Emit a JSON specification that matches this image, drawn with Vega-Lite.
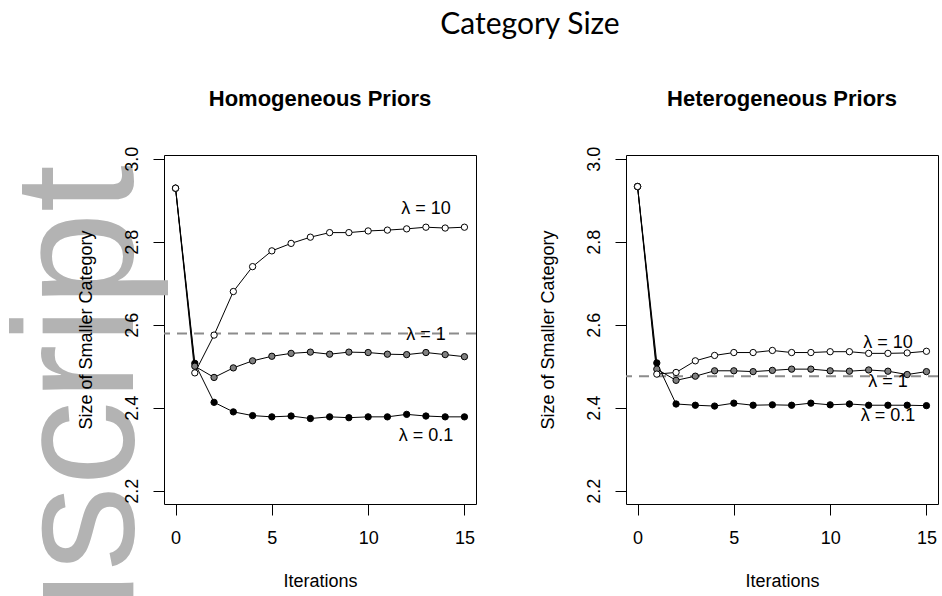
{
  "$schema": "https://vega.github.io/schema/vega-lite/v6.json",
  "autosize": {"type": "none"},
  "padding": {"left": 164, "top": 155, "right": 778, "bottom": 441},
  "background": "white",
  "title": {"text": "Category Size", "font": "Lato", "fontSize": 30, "fontWeight": "normal", "color": "black", "anchor": "middle", "baseline": "alphabetic", "offset": 23, "dx": 62},
  "spacing": 60,
  "config": {
    "view": {"stroke": "black", "strokeWidth": 1},
    "axis": {"domain": false, "grid": false, "tickColor": "black", "tickSize": 11, "tickWidth": 1, "labelFont": "Liberation Sans", "labelFontSize": 18, "labelColor": "black", "labelFlush": false, "labelOverlap": false, "titleFont": "Liberation Sans", "titleFontSize": 18, "titleFontWeight": "normal", "titleColor": "black"},
    "axisX": {"labelBaseline": "top", "labelPadding": 14, "titleBaseline": "top", "titlePadding": 25},
    "axisY": {"labelAngle": 270, "labelAlign": "center", "labelBaseline": "alphabetic", "labelPadding": 15.5, "titleAngle": 270, "titleBaseline": "alphabetic", "titlePadding": 32}
  },
  "datasets": {
    "homog": [
      {"i":0,"v":2.929,"lam":"0.1"},{"i":1,"v":2.507,"lam":"0.1"},{"i":2,"v":2.413,"lam":"0.1"},{"i":3,"v":2.390,"lam":"0.1"},{"i":4,"v":2.381,"lam":"0.1"},{"i":5,"v":2.378,"lam":"0.1"},{"i":6,"v":2.380,"lam":"0.1"},{"i":7,"v":2.374,"lam":"0.1"},{"i":8,"v":2.378,"lam":"0.1"},{"i":9,"v":2.376,"lam":"0.1"},{"i":10,"v":2.378,"lam":"0.1"},{"i":11,"v":2.378,"lam":"0.1"},{"i":12,"v":2.384,"lam":"0.1"},{"i":13,"v":2.380,"lam":"0.1"},{"i":14,"v":2.378,"lam":"0.1"},{"i":15,"v":2.378,"lam":"0.1"},
      {"i":0,"v":2.929,"lam":"1"},{"i":1,"v":2.500,"lam":"1"},{"i":2,"v":2.473,"lam":"1"},{"i":3,"v":2.496,"lam":"1"},{"i":4,"v":2.513,"lam":"1"},{"i":5,"v":2.524,"lam":"1"},{"i":6,"v":2.531,"lam":"1"},{"i":7,"v":2.534,"lam":"1"},{"i":8,"v":2.529,"lam":"1"},{"i":9,"v":2.534,"lam":"1"},{"i":10,"v":2.533,"lam":"1"},{"i":11,"v":2.529,"lam":"1"},{"i":12,"v":2.528,"lam":"1"},{"i":13,"v":2.533,"lam":"1"},{"i":14,"v":2.528,"lam":"1"},{"i":15,"v":2.523,"lam":"1"},
      {"i":0,"v":2.929,"lam":"10"},{"i":1,"v":2.484,"lam":"10"},{"i":2,"v":2.575,"lam":"10"},{"i":3,"v":2.680,"lam":"10"},{"i":4,"v":2.740,"lam":"10"},{"i":5,"v":2.778,"lam":"10"},{"i":6,"v":2.796,"lam":"10"},{"i":7,"v":2.811,"lam":"10"},{"i":8,"v":2.822,"lam":"10"},{"i":9,"v":2.822,"lam":"10"},{"i":10,"v":2.826,"lam":"10"},{"i":11,"v":2.828,"lam":"10"},{"i":12,"v":2.831,"lam":"10"},{"i":13,"v":2.835,"lam":"10"},{"i":14,"v":2.833,"lam":"10"},{"i":15,"v":2.835,"lam":"10"}
    ],
    "heterog": [
      {"i":0,"v":2.933,"lam":"0.1"},{"i":1,"v":2.508,"lam":"0.1"},{"i":2,"v":2.409,"lam":"0.1"},{"i":3,"v":2.406,"lam":"0.1"},{"i":4,"v":2.404,"lam":"0.1"},{"i":5,"v":2.411,"lam":"0.1"},{"i":6,"v":2.406,"lam":"0.1"},{"i":7,"v":2.407,"lam":"0.1"},{"i":8,"v":2.406,"lam":"0.1"},{"i":9,"v":2.411,"lam":"0.1"},{"i":10,"v":2.407,"lam":"0.1"},{"i":11,"v":2.409,"lam":"0.1"},{"i":12,"v":2.406,"lam":"0.1"},{"i":13,"v":2.406,"lam":"0.1"},{"i":14,"v":2.406,"lam":"0.1"},{"i":15,"v":2.405,"lam":"0.1"},
      {"i":0,"v":2.933,"lam":"1"},{"i":1,"v":2.493,"lam":"1"},{"i":2,"v":2.466,"lam":"1"},{"i":3,"v":2.476,"lam":"1"},{"i":4,"v":2.489,"lam":"1"},{"i":5,"v":2.489,"lam":"1"},{"i":6,"v":2.487,"lam":"1"},{"i":7,"v":2.490,"lam":"1"},{"i":8,"v":2.493,"lam":"1"},{"i":9,"v":2.493,"lam":"1"},{"i":10,"v":2.489,"lam":"1"},{"i":11,"v":2.488,"lam":"1"},{"i":12,"v":2.491,"lam":"1"},{"i":13,"v":2.488,"lam":"1"},{"i":14,"v":2.480,"lam":"1"},{"i":15,"v":2.487,"lam":"1"},
      {"i":0,"v":2.933,"lam":"10"},{"i":1,"v":2.481,"lam":"10"},{"i":2,"v":2.485,"lam":"10"},{"i":3,"v":2.513,"lam":"10"},{"i":4,"v":2.526,"lam":"10"},{"i":5,"v":2.533,"lam":"10"},{"i":6,"v":2.533,"lam":"10"},{"i":7,"v":2.538,"lam":"10"},{"i":8,"v":2.533,"lam":"10"},{"i":9,"v":2.533,"lam":"10"},{"i":10,"v":2.535,"lam":"10"},{"i":11,"v":2.535,"lam":"10"},{"i":12,"v":2.531,"lam":"10"},{"i":13,"v":2.531,"lam":"10"},{"i":14,"v":2.532,"lam":"10"},{"i":15,"v":2.536,"lam":"10"}
    ],
    "homogLabels": [
      {"x":13,"y":2.878,"label":"λ = 10"},{"x":13,"y":2.575,"label":"λ = 1"},{"x":13,"y":2.332,"label":"λ = 0.1"}
    ],
    "heterogLabels": [
      {"x":13,"y":2.555,"label":"λ = 10"},{"x":13,"y":2.463,"label":"λ = 1"},{"x":13,"y":2.380,"label":"λ = 0.1"}
    ],
    "homogRef": [{"ref": 2.579}],
    "heterogRef": [{"ref": 2.476}],
    "watermark": [{"x": -2.21, "y": 2.985, "label": "Manuscript"}]
  },
  "hconcat": [
    {
      "width": 312, "height": 349,
      "title": {"text": "Homogeneous Priors", "font": "Liberation Sans", "fontSize": 22, "fontWeight": "bold", "color": "black", "anchor": "middle", "frame": "group", "baseline": "alphabetic", "offset": 18.5},
      "layer": [
        {
          "data": {"name": "watermark"},
          "mark": {"type": "text", "font": "Liberation Sans", "fontSize": 170, "color": "#b3b3b3", "angle": 270, "align": "right", "baseline": "alphabetic"},
          "encoding": {
            "x": {"field": "x", "type": "quantitative", "scale": {"domain": [-0.6, 15.6], "nice": false, "zero": false}, "title": "Iterations", "axis": {"values": [0, 5, 10, 15], "zindex": 1}},
            "y": {"field": "y", "type": "quantitative", "scale": {"domain": [2.168, 3.009], "nice": false, "zero": false}, "title": "Size of Smaller Category", "axis": {"values": [2.2, 2.4, 2.6, 2.8, 3.0], "format": ".1f", "zindex": 1}},
            "text": {"field": "label"}
          }
        },
        {
          "data": {"name": "homogRef"},
          "mark": {"type": "rule", "color": "#8c8c8c", "strokeWidth": 2, "strokeDash": [10, 7]},
          "encoding": {"y": {"field": "ref", "type": "quantitative"}}
        },
        {
          "data": {"name": "homog"},
          "mark": {"type": "line", "color": "black", "strokeWidth": 1},
          "encoding": {
            "x": {"field": "i", "type": "quantitative"},
            "y": {"field": "v", "type": "quantitative"},
            "detail": {"field": "lam"}
          }
        },
        {
          "data": {"name": "homog"},
          "mark": {"type": "point", "shape": "circle", "filled": true, "size": 40, "stroke": "black", "strokeWidth": 1, "opacity": 1},
          "encoding": {
            "x": {"field": "i", "type": "quantitative"},
            "y": {"field": "v", "type": "quantitative"},
            "fill": {"field": "lam", "type": "nominal", "scale": {"domain": ["0.1", "1", "10"], "range": ["black", "#808080", "white"]}, "legend": null}
          }
        },
        {
          "data": {"name": "homogLabels"},
          "mark": {"type": "text", "font": "Liberation Sans", "fontSize": 18, "color": "black", "align": "center", "baseline": "middle"},
          "encoding": {
            "x": {"field": "x", "type": "quantitative"},
            "y": {"field": "y", "type": "quantitative"},
            "text": {"field": "label"}
          }
        }
      ]
    },
    {
      "width": 312, "height": 349,
      "title": {"text": "Heterogeneous Priors", "font": "Liberation Sans", "fontSize": 22, "fontWeight": "bold", "color": "black", "anchor": "middle", "frame": "group", "baseline": "alphabetic", "offset": 18.5},
      "layer": [
        {
          "data": {"name": "heterogRef"},
          "mark": {"type": "rule", "color": "#8c8c8c", "strokeWidth": 2, "strokeDash": [10, 7]},
          "encoding": {"y": {"field": "ref", "type": "quantitative", "scale": {"domain": [2.168, 3.009], "nice": false, "zero": false}}}
        },
        {
          "data": {"name": "heterog"},
          "mark": {"type": "line", "color": "black", "strokeWidth": 1},
          "encoding": {
            "x": {"field": "i", "type": "quantitative", "title": "Iterations", "scale": {"domain": [-0.6, 15.6], "nice": false, "zero": false}, "axis": {"values": [0, 5, 10, 15], "zindex": 1}},
            "y": {"field": "v", "type": "quantitative", "title": "Size of Smaller Category", "axis": {"values": [2.2, 2.4, 2.6, 2.8, 3.0], "format": ".1f", "zindex": 1}},
            "detail": {"field": "lam"}
          }
        },
        {
          "data": {"name": "heterog"},
          "mark": {"type": "point", "shape": "circle", "filled": true, "size": 40, "stroke": "black", "strokeWidth": 1, "opacity": 1},
          "encoding": {
            "x": {"field": "i", "type": "quantitative"},
            "y": {"field": "v", "type": "quantitative"},
            "fill": {"field": "lam", "type": "nominal", "scale": {"domain": ["0.1", "1", "10"], "range": ["black", "#808080", "white"]}, "legend": null}
          }
        },
        {
          "data": {"name": "heterogLabels"},
          "mark": {"type": "text", "font": "Liberation Sans", "fontSize": 18, "color": "black", "align": "center", "baseline": "middle"},
          "encoding": {
            "x": {"field": "x", "type": "quantitative"},
            "y": {"field": "y", "type": "quantitative"},
            "text": {"field": "label"}
          }
        }
      ]
    }
  ]
}
